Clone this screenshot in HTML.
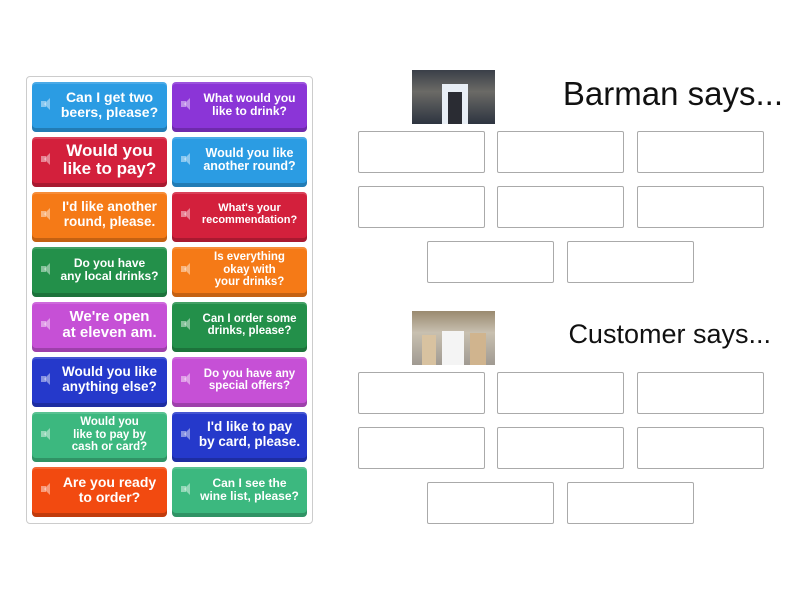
<!DOCTYPE html>
<html><head><style>
body{margin:0;width:800px;height:600px;background:#fff;position:relative;overflow:hidden;font-family:"Liberation Sans",sans-serif}
.panel{position:absolute;left:26px;top:76px;width:285px;height:446px;border:1px solid #ccc;border-radius:4px}
.c{position:absolute;width:135px;height:50px;border-radius:4px;color:#fff;box-shadow:inset 0 -4px 0 rgba(0,0,0,.2),inset 0 2px 0 rgba(255,255,255,.15);font-weight:bold;white-space:nowrap}
.c .t{position:absolute;left:22px;right:2px;top:0;bottom:4px;display:flex;align-items:center;justify-content:center;text-align:center;line-height:1.08}
.c .i{position:absolute;left:9px;top:19px;width:5px;height:6px;background:rgba(255,255,255,.45)}
.c .i:after{content:"";position:absolute;left:3px;top:-3px;border-right:6px solid rgba(255,255,255,.45);border-top:6px solid transparent;border-bottom:6px solid transparent}
.l1{left:32px}.l2{left:172px}
.b{position:absolute;width:125px;height:40px;border:1px solid #aaa;border-radius:2px;background:#fff}
.img{position:absolute;width:83px;height:54px}
.h{position:absolute;color:#111;font-family:"Liberation Sans",sans-serif;font-weight:normal;white-space:nowrap;text-align:right}
</style></head><body>
<div class="panel"></div>
<div class="c l1" style="top:82px;background:#2b9ce3"><div class="i"></div><div class="t" style="font-size:14px">Can I get two<br>beers, please?</div></div>
<div class="c l2" style="top:82px;background:#8b35d7"><div class="i"></div><div class="t" style="font-size:12px">What would you<br>like to drink?</div></div>
<div class="c l1" style="top:137px;background:#d3203c"><div class="i"></div><div class="t" style="font-size:17px">Would you<br>like to pay?</div></div>
<div class="c l2" style="top:137px;background:#2b9ce3"><div class="i"></div><div class="t" style="font-size:12.5px">Would you like<br>another round?</div></div>
<div class="c l1" style="top:192px;background:#f57a17"><div class="i"></div><div class="t" style="font-size:13.5px">I'd like another<br>round, please.</div></div>
<div class="c l2" style="top:192px;background:#d3203c"><div class="i"></div><div class="t" style="font-size:11px">What's your<br>recommendation?</div></div>
<div class="c l1" style="top:247px;background:#23904a"><div class="i"></div><div class="t" style="font-size:12px">Do you have<br>any local drinks?</div></div>
<div class="c l2" style="top:247px;background:#f57a17"><div class="i"></div><div class="t" style="font-size:11.5px;line-height:1.1">Is everything<br>okay with<br>your drinks?</div></div>
<div class="c l1" style="top:302px;background:#c650d6"><div class="i"></div><div class="t" style="font-size:15px">We're open<br>at eleven am.</div></div>
<div class="c l2" style="top:302px;background:#23904a"><div class="i"></div><div class="t" style="font-size:11.5px">Can I order some<br>drinks, please?</div></div>
<div class="c l1" style="top:357px;background:#2539cb"><div class="i"></div><div class="t" style="font-size:13.5px">Would you like<br>anything else?</div></div>
<div class="c l2" style="top:357px;background:#c650d6"><div class="i"></div><div class="t" style="font-size:11.5px">Do you have any<br>special offers?</div></div>
<div class="c l1" style="top:412px;background:#3cb87f"><div class="i"></div><div class="t" style="font-size:11.5px;line-height:1.1">Would you<br>like to pay by<br>cash or card?</div></div>
<div class="c l2" style="top:412px;background:#2539cb"><div class="i"></div><div class="t" style="font-size:13.5px">I'd like to pay<br>by card, please.</div></div>
<div class="c l1" style="top:467px;background:#f24a10"><div class="i"></div><div class="t" style="font-size:14px">Are you ready<br>to order?</div></div>
<div class="c l2" style="top:467px;background:#3cb87f"><div class="i"></div><div class="t" style="font-size:12px">Can I see the<br>wine list, please?</div></div>

<div class="img" style="left:412px;top:70px;background:linear-gradient(180deg,#3a3f48 0,#6b6a66 40%,#2d3440 100%)"><div style="position:absolute;left:30px;top:14px;width:26px;height:40px;background:#e8eef5"></div><div style="position:absolute;left:36px;top:22px;width:14px;height:32px;background:#2a2c33"></div></div>
<div class="h" style="right:17px;top:75px;font-size:33px">Barman says...</div>
<div class="b" style="left:358px;top:131px"></div><div class="b" style="left:497px;top:131px"></div><div class="b" style="left:637px;top:131px"></div>
<div class="b" style="left:358px;top:186px"></div><div class="b" style="left:497px;top:186px"></div><div class="b" style="left:637px;top:186px"></div>
<div class="b" style="left:427px;top:241px"></div><div class="b" style="left:567px;top:241px"></div>

<div class="img" style="left:412px;top:311px;background:linear-gradient(180deg,#9a8a70 0,#c8c0b0 40%,#a09a92 100%)"><div style="position:absolute;left:30px;top:20px;width:22px;height:34px;background:#f4f4f4"></div><div style="position:absolute;left:10px;top:24px;width:14px;height:30px;background:#d8c2a0"></div><div style="position:absolute;left:58px;top:22px;width:16px;height:32px;background:#d0b48e"></div></div>
<div class="h" style="right:29px;top:319px;font-size:27px">Customer says...</div>
<div class="b" style="left:358px;top:372px"></div><div class="b" style="left:497px;top:372px"></div><div class="b" style="left:637px;top:372px"></div>
<div class="b" style="left:358px;top:427px"></div><div class="b" style="left:497px;top:427px"></div><div class="b" style="left:637px;top:427px"></div>
<div class="b" style="left:427px;top:482px"></div><div class="b" style="left:567px;top:482px"></div>
</body></html>
